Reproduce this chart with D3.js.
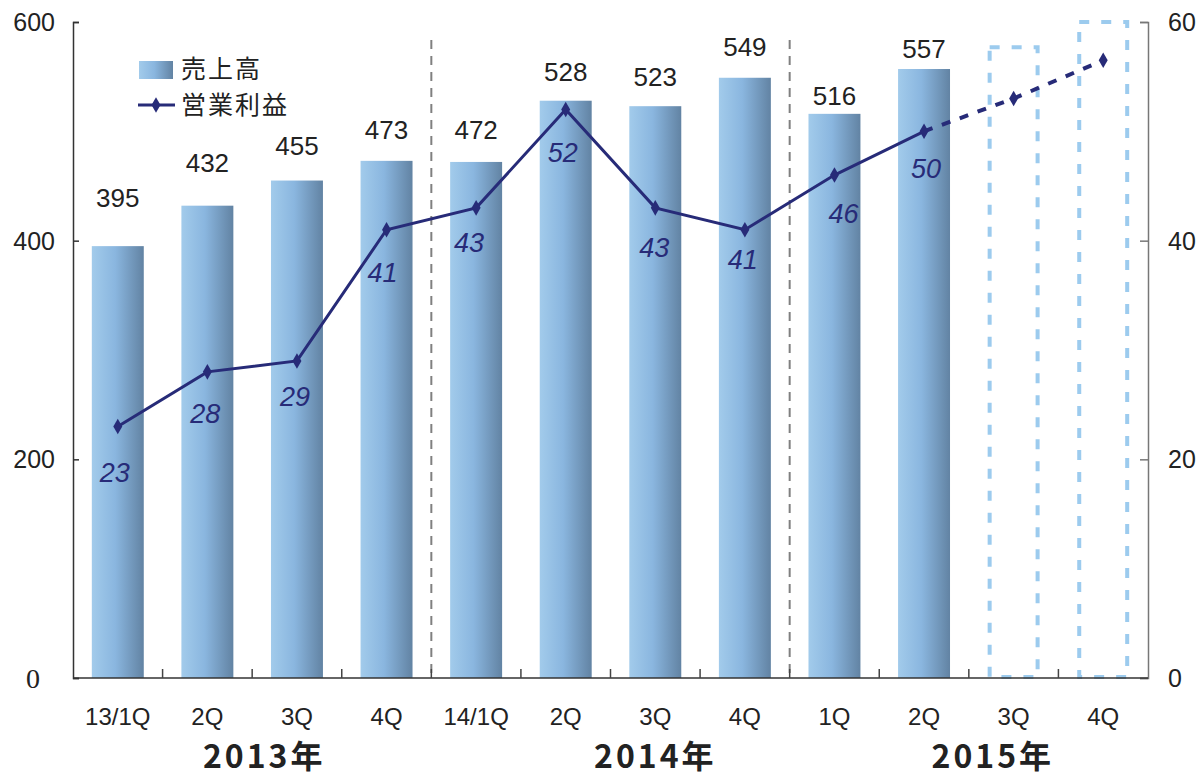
<!DOCTYPE html>
<html><head><meta charset="utf-8">
<script src="https://cdn.jsdelivr.net/npm/d3@7"></script>
<style>
html,body{margin:0;padding:0;background:#fff;}
svg{display:block;}
.num{font-family:"Liberation Sans",Arial,sans-serif;}
</style></head>
<body>
<script>
// ---- data ----
const categories = ["13/1Q","2Q","3Q","4Q","14/1Q","2Q","3Q","4Q","1Q","2Q","3Q","4Q"];
const sales = [395,432,455,473,472,528,523,549,516,557,null,null];
const profit = [23,28,29,41,43,52,43,41,46,50,null,null];
const forecastSales = [null,null,null,null,null,null,null,null,null,null,577,600];
const forecastProfit = [null,null,null,null,null,null,null,null,null,50,53,56.5];
const years = ["2013年","2014年","2015年"];
const leftTicks = [0,200,400,600];
const rightTicks = [0,20,40,60];
const legendLabels = ["売上高","営業利益"];

// ---- layout ----
const W = 1201, H = 778;
const x0 = 73, x1 = 1148, yTop = 22, yBot = 678;
const svg = d3.select("body").append("svg").attr("width", W).attr("height", H);

const idx = categories.map((d,i)=>i);
const x = d3.scaleBand().domain(idx).range([x0, x1]).paddingInner(0.42).paddingOuter(0.21);
const xc = i => x(i) + x.bandwidth()/2;
const yL = d3.scaleLinear().domain([0,600]).range([yBot, yTop]);
const yR = d3.scaleLinear().domain([0,60]).range([yBot, yTop]);

const defs = svg.append("defs");
const grad = defs.append("linearGradient").attr("id","barg").attr("x1","0").attr("x2","1").attr("y1","0").attr("y2","0");
grad.append("stop").attr("offset","0%").attr("stop-color","#a2cbeb");
grad.append("stop").attr("offset","45%").attr("stop-color","#8ab6df");
grad.append("stop").attr("offset","100%").attr("stop-color","#6283a3");

const navy = "#272b78";

// bars
svg.append("g").selectAll("rect").data(sales.map((v,i)=>({v,i})).filter(d=>d.v!=null))
  .join("rect")
  .attr("x", d=>x(d.i)).attr("width", x.bandwidth())
  .attr("y", d=>yL(d.v)).attr("height", d=>yBot - yL(d.v))
  .attr("fill","url(#barg)");

// forecast boxes
svg.append("g").selectAll("rect").data(forecastSales.map((v,i)=>({v,i})).filter(d=>d.v!=null))
  .join("rect")
  .attr("x", d=>x(d.i)+2).attr("width", x.bandwidth()-4)
  .attr("y", d=>yL(d.v)).attr("height", d=>yBot - yL(d.v)-1)
  .attr("fill","none").attr("stroke","#9ccbee").attr("stroke-width",4)
  .attr("stroke-dasharray","10,12");

// separators
[4,8].forEach(i=>{
  const sx = x(i) - x.step()*x.paddingInner()/2;
  svg.append("line").attr("x1",sx).attr("x2",sx).attr("y1",40).attr("y2",yBot)
    .attr("stroke","#808080").attr("stroke-width",2).attr("stroke-dasharray","9,7");
});

// axes
const axL = svg.append("g").attr("transform",`translate(${x0},0)`)
  .call(d3.axisRight(yL).tickValues(leftTicks).tickSize(6).tickFormat(""));
axL.select(".domain").attr("stroke","#333").attr("stroke-width",1.5);
axL.selectAll(".tick line").attr("stroke","#333").attr("stroke-width",1.5);
const axR = svg.append("g").attr("transform",`translate(${x1},0)`)
  .call(d3.axisLeft(yR).tickValues(rightTicks).tickSize(8).tickFormat(""));
axR.select(".domain").attr("stroke","#777").attr("stroke-width",1.5);
axR.selectAll(".tick line").attr("stroke","#777").attr("stroke-width",1.5);
// x axis baseline & boundary ticks
svg.append("line").attr("x1",x0).attr("x2",x1).attr("y1",yBot).attr("y2",yBot).attr("stroke","#333").attr("stroke-width",1.5);
d3.range(1,12).forEach(i=>{
  const tx = x(i) - x.step()*x.paddingInner()/2;
  svg.append("line").attr("x1",tx).attr("x2",tx).attr("y1",yBot).attr("y2",yBot-9).attr("stroke","#444").attr("stroke-width",1.5);
});

// tick labels
svg.append("g").selectAll("text").data(leftTicks).join("text")
  .attr("class", d=>d===0?"":"num")
  .attr("x", d=>d===0?40:55).attr("y", d=>yL(d)).attr("dy","0.36em").attr("text-anchor","end")
  .style("font-family", d=>d===0?"'Liberation Serif',serif":null)
  .attr("font-size", d=>d===0?28:25).attr("fill","#222").text(d=>d);
svg.append("g").selectAll("text").data(rightTicks).join("text")
  .attr("class","num")
  .attr("x", 1168).attr("y", d=>yR(d)).attr("dy","0.36em").attr("text-anchor","start")
  .attr("font-size",25).attr("fill","#222").text(d=>d);

// category labels
svg.append("g").selectAll("text").data(idx).join("text")
  .attr("class","num")
  .attr("x", i=>xc(i)).attr("y", 725).attr("text-anchor","middle")
  .attr("font-size",24).attr("fill","#222").text(i=>categories[i]);

// year labels
const yearPos = [xc(1)+x.step()/2+12, xc(6), xc(9)+x.step()/2+24];
svg.append("g").selectAll("text").data(years).join("text")
  .attr("x",(d,i)=>yearPos[i]).attr("y",768).attr("text-anchor","middle")
  .style("font-family","'Noto Sans CJK JP',sans-serif").attr("font-weight","bold")
  .attr("letter-spacing",3)
  .attr("font-size",32).attr("fill","#222").text(d=>d);

// sales value labels
const salesGap = [48,43,35,31,32,29,30,31,18,20];
svg.append("g").selectAll("text").data(sales.map((v,i)=>({v,i})).filter(d=>d.v!=null)).join("text")
  .attr("class","num")
  .attr("x", d=>xc(d.i)).attr("y", d=>yL(d.v)-salesGap[d.i]).attr("dy","0.36em")
  .attr("text-anchor","middle").attr("font-size",26).attr("fill","#222").text(d=>d.v);

// profit line
const pts = profit.map((v,i)=>({v,i})).filter(d=>d.v!=null);
const line = d3.line().x(d=>xc(d.i)).y(d=>yR(d.v));
svg.append("path").datum(pts).attr("d",line).attr("fill","none").attr("stroke",navy).attr("stroke-width",3);
const fpts = forecastProfit.map((v,i)=>({v,i})).filter(d=>d.v!=null);
svg.append("path").datum(fpts).attr("d",line).attr("fill","none").attr("stroke",navy).attr("stroke-width",4).attr("stroke-dasharray","9,10");
const diamond = d3.symbol().type(d3.symbolDiamond).size(70);
svg.append("g").selectAll("path").data(pts.concat(fpts.slice(1))).join("path")
  .attr("d",diamond).attr("transform",d=>`translate(${xc(d.i)},${yR(d.v)})`).attr("fill",navy);

// profit labels
const profitGap = [46,41,35,43,34,43,39,30,38,37];
const profitDx = [-3,-2,-2,-4,-7,-3,-1,-2,9,2];
svg.append("g").selectAll("text").data(pts).join("text")
  .attr("class","num")
  .attr("x", d=>xc(d.i)+profitDx[d.i]).attr("y", d=>yR(d.v)+profitGap[d.i]).attr("dy","0.36em")
  .attr("text-anchor","middle").attr("font-size",27).attr("font-style","italic")
  .attr("fill",navy).text(d=>d.v);

// legend
const lg = svg.append("g");
lg.append("rect").attr("x",139).attr("y",61).attr("width",34).attr("height",18).attr("fill","url(#barg)");
lg.append("line").attr("x1",138).attr("x2",175).attr("y1",105).attr("y2",105).attr("stroke",navy).attr("stroke-width",3);
lg.append("path").attr("d",diamond).attr("transform","translate(156,105)").attr("fill",navy);
lg.selectAll("text").data(legendLabels).join("text")
  .attr("x",181).attr("y",(d,i)=>69+i*36).attr("dy","0.36em")
  .style("font-family","'Noto Sans CJK JP',sans-serif")
  .attr("letter-spacing",2)
  .attr("font-size",25).attr("fill","#222").text(d=>d);
</script>
</body></html>
